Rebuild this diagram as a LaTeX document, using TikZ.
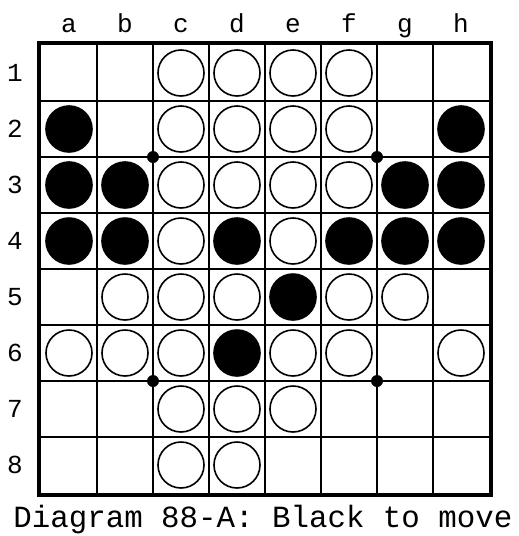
\documentclass[tikz,border=0pt]{standalone}
\usepackage{fontspec}
\setmonofont{Liberation Mono}

\begin{document}
\begin{tikzpicture}[x=0.5pt,y=-0.5pt,
    stone/.style={circle, inner sep=0pt, minimum size=23pt, line width=0.8pt},
    white stone/.style={stone, draw=black, fill=white},
    black stone/.style={stone, draw=black, fill=black},
    coord label/.style={font=\ttfamily\fontsize{13}{13}\selectfont, inner sep=0pt}]

    \useasboundingbox (0,0) rectangle (519,536);

    % Grid
    \foreach \i in {1,...,7} {
        \draw[line width=1pt] (41+56*\i,45) -- (41+56*\i,493);
        \draw[line width=1pt] (41,45+56*\i) -- (489,45+56*\i);
    }

    % Border
    \draw[line width=2pt] (39,43) rectangle (491,495);

    % Star points
    \foreach \x/\y in {153/157, 377/157, 153/381, 377/381}
        \fill (\x,\y) circle[radius=3pt];

    % Column labels
    \foreach \c/\l in {1/a, 2/b, 3/c, 4/d, 5/e, 6/f, 7/g, 8/h}
        \node[coord label, anchor=base] (col-\l) at (13+56*\c,32) {\l};

    % Row labels
    \foreach \r in {1,...,8}
        \node[coord label] (row-\r) at (15,17+56*\r) {\r};

    % White stones
    \foreach \c/\r in {3/1, 4/1, 5/1, 6/1,
                       3/2, 4/2, 5/2, 6/2,
                       3/3, 4/3, 5/3, 6/3,
                       3/4, 5/4,
                       2/5, 3/5, 4/5, 6/5, 7/5,
                       1/6, 2/6, 3/6, 5/6, 6/6, 8/6,
                       3/7, 4/7, 5/7,
                       3/8, 4/8}
        \node[white stone] (s\c\r) at (13+56*\c,17+56*\r) {};

    % Black stones
    \foreach \c/\r in {1/2, 8/2,
                       1/3, 2/3, 7/3, 8/3,
                       1/4, 2/4, 4/4, 6/4, 7/4, 8/4,
                       5/5,
                       4/6}
        \node[black stone] (s\c\r) at (13+56*\c,17+56*\r) {};

    % Caption
    \node[anchor=base west, inner sep=0pt, font=\ttfamily\fontsize{15.4}{16}\selectfont]
        (caption) at (13,527) {Diagram 88-A: Black to move};

\end{tikzpicture}
\end{document}
